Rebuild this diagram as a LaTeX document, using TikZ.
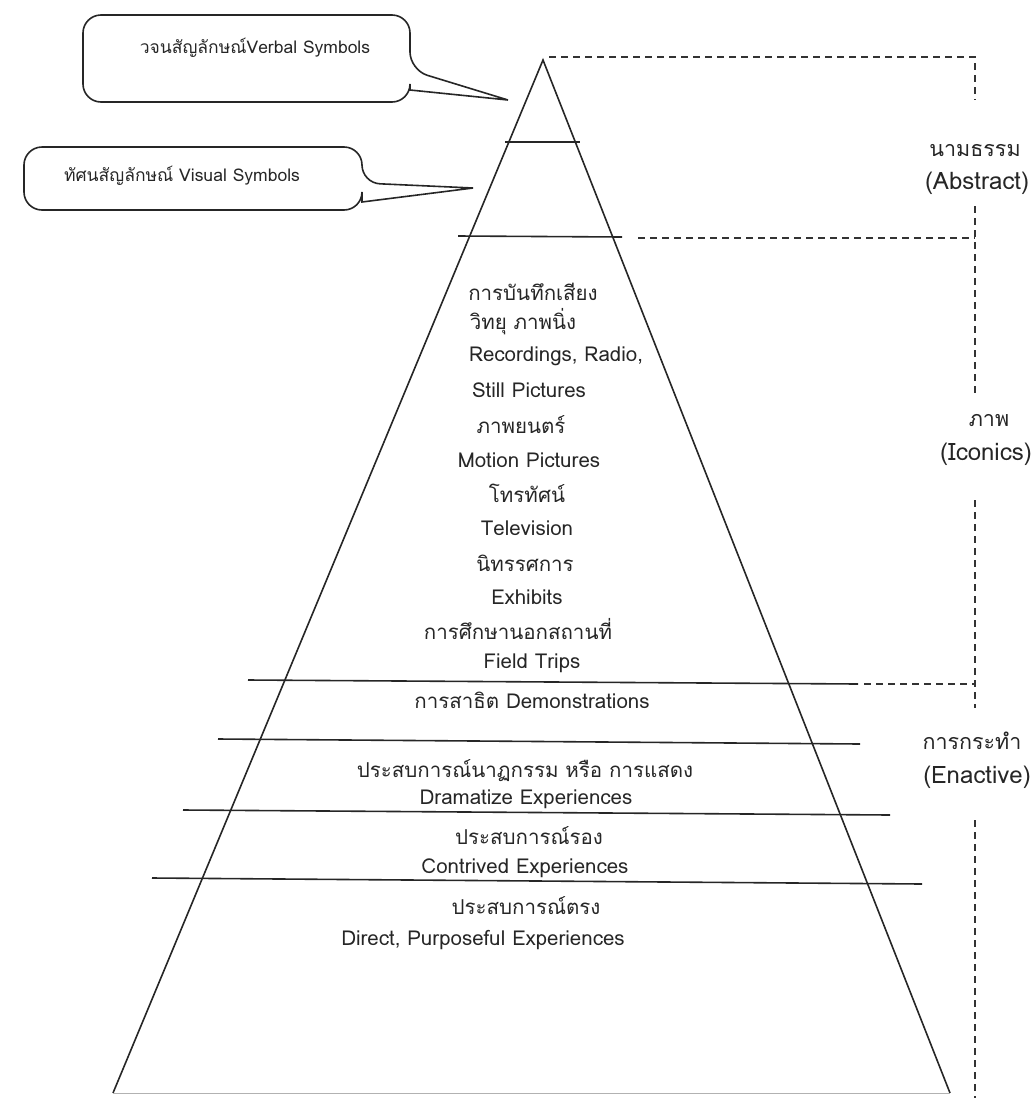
\documentclass[tikz,border=0pt]{standalone}
\usepackage{fontspec}
\setmainfont[Script=Thai]{Loma}
\begin{document}
\begin{tikzpicture}[x=1pt,y=-1pt,
  edge/.style={line width=1.6pt, black!85},
  dline/.style={line width=1.3pt, dash pattern=on 7pt off 5pt, black!80},
  lbl/.style={font=\fontsize{20.5}{23}\selectfont, inner sep=0pt, anchor=center, text=black!85},
  side/.style={font=\fontsize{24}{26}\selectfont, inner sep=0pt, anchor=center, text=black!85},
  sideth/.style={font=\fontsize{21.5}{24}\selectfont, inner sep=0pt, anchor=center, text=black!85},
  cal/.style={font=\fontsize{17.5}{20}\selectfont, inner sep=0pt, anchor=center, text=black!85},
  bubble/.style={line width=1.6pt, black!85, rounded corners=18pt}]
\useasboundingbox (0,0) rectangle (1033,1098);
% pyramid
\coordinate (apex) at (543,60);
\coordinate (bl) at (113,1093);
\coordinate (br) at (950,1093);
\draw[edge] (bl) -- (apex) -- (br);
\draw[line width=1pt, black!30] (bl) -- (br);
% horizontal lines
\coordinate (l1a) at (505,142); \coordinate (l1b) at (580,142);
\coordinate (l2a) at (458,236); \coordinate (l2b) at (622,237);
\coordinate (l3a) at (248,680); \coordinate (l3b) at (858,684);
\coordinate (l4a) at (218,739); \coordinate (l4b) at (860,744);
\coordinate (l5a) at (183,810); \coordinate (l5b) at (890,815);
\coordinate (l6a) at (152,878); \coordinate (l6b) at (922,884);
\draw[edge] (l1a) -- (l1b);
\draw[edge] (l2a) -- (l2b);
\draw[edge] (l3a) -- (l3b);
\draw[edge] (l4a) -- (l4b);
\draw[edge] (l5a) -- (l5b);
\draw[edge] (l6a) -- (l6b);
% dashed bracket on the right
\coordinate (d0a) at (549,57); \coordinate (d0b) at (975,57); \coordinate (d0c) at (975,100);
\coordinate (d1a) at (638,238); \coordinate (d1b) at (975,238);
\coordinate (d1t) at (975,206); \coordinate (d1e) at (975,395);
\coordinate (d2a) at (864,684); \coordinate (d2b) at (975,684);
\coordinate (d2t) at (975,500); \coordinate (d2e) at (975,708);
\coordinate (d3t) at (975,820); \coordinate (d3e) at (975,1098);
\draw[dline] (d0a) -- (d0b) -- (d0c);
\draw[dline] (d1a) -- (d1b);
\draw[dline] (d1t) -- (d1e);
\draw[dline] (d2a) -- (d2b);
\draw[dline] (d2t) -- (d2e);
\draw[dline] (d3t) -- (d3e);
% side labels
\node[sideth] (abs1) at (975,151) {นามธรรม};
\node[side] (abs2) at (977,183) {(Abstract)};
\node[sideth] (ico1) at (989,421) {ภาพ};
\node[side] (ico2) at (986,454) {(Iconics)};
\node[sideth] (ena1) at (972,741) {การกระทำ};
\node[side] (ena2) at (977,777) {(Enactive)};
% callouts
\coordinate (t1) at (508,100);
\draw[bubble] (410,90) -- (410,102) -- (83,102) -- (83,15) -- (410,15) -- (410,70) [sharp corners] -- (t1) -- cycle;
\node[cal] (verbal) at (255,48) {วจนสัญลักษณ์Verbal Symbols};
\coordinate (t2) at (473,188);
\draw[bubble] (362,202) -- (362,210) -- (24,210) -- (24,147) -- (362,147) -- (362,183) [sharp corners] -- (t2) -- cycle;
\node[cal] (visual) at (182,176) {ทัศนสัญลักษณ์ Visual Symbols};
% pyramid texts
\node[lbl] (a1) at (533,292) {การบันทึกเสียง};
\node[lbl] (a2) at (523,322) {วิทยุ ภาพนิ่ง};
\node[lbl] (a3) at (556,356) {Recordings, Radio,};
\node[lbl] (a4) at (529,390) {Still Pictures};
\node[lbl] (a5) at (521,425) {ภาพยนตร์};
\node[lbl] (a6) at (529,460) {Motion Pictures};
\node[lbl] (a7) at (527,493) {โทรทัศน์};
\node[lbl] (a8) at (527,528) {Television};
\node[lbl] (a9) at (525,563) {นิทรรศการ};
\node[lbl] (a10) at (527,597) {Exhibits};
\node[lbl] (a11) at (518,629) {การศึกษานอกสถานที่};
\node[lbl] (a12) at (532,663) {Field Trips};
\node[lbl] (b1) at (532,700) {การสาธิต Demonstrations};
\node[lbl] (c1) at (525,771) {ประสบการณ์นาฏกรรม หรือ การแสดง};
\node[lbl] (c2) at (526,799) {Dramatize Experiences};
\node[lbl] (d1) at (529,836) {ประสบการณ์รอง};
\node[lbl] (d2) at (525,868) {Contrived Experiences};
\node[lbl] (e1) at (526,906) {ประสบการณ์ตรง};
\node[lbl] (e2) at (483,940) {Direct, Purposeful Experiences};
\end{tikzpicture}
\end{document}
